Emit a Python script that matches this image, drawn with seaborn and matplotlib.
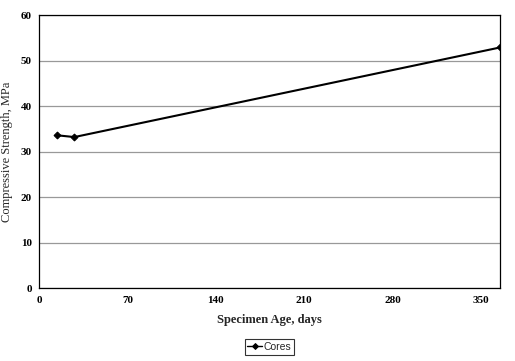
import numpy as np
import pandas as pd
import seaborn as sns
import matplotlib.pyplot as plt
from matplotlib.ticker import MultipleLocator

# values
age_days = [14, 28, 365]
strength_mpa = [33.6, 33.2, 52.9]
series_name = "Cores"

df = pd.DataFrame({"age": age_days, "strength": strength_mpa, "series": series_name})

sns.set_style("white")
plt.rcParams["font.family"] = ["Liberation Serif", "DejaVu Serif"]

fig = plt.figure(figsize=(5.15, 3.61), dpi=100)
ax = fig.add_axes([0.0757, 0.202, 0.8953, 0.756])

sns.lineplot(data=df, x="age", y="strength", hue="series", palette=["black"],
             marker="D", markersize=3.5, markeredgecolor="black", linewidth=1.5, ax=ax)

ax.set_xlim(0, 365)
ax.set_ylim(0, 60)
ax.set_xticks(np.arange(0, 351, 70))
ax.xaxis.set_minor_locator(MultipleLocator(14))
ax.set_yticks(np.arange(0, 61, 10))
ax.yaxis.grid(True, color="#999999", linewidth=0.9)
ax.tick_params(axis="both", which="major", labelsize=8, length=4, direction="inout", width=0.8, colors="black")
ax.tick_params(axis="x", which="minor", length=2, direction="inout", width=0.8)
ax.tick_params(axis="y", which="major", length=3)
for lbl in ax.get_xticklabels() + ax.get_yticklabels():
    lbl.set_fontweight("bold")
for s in ax.spines.values():
    s.set_color("black")
    s.set_linewidth(0.9)

ax.set_xlabel("Specimen Age, days", fontsize=9, fontweight="bold", labelpad=7)
ax.set_ylabel("Compressive Strength, MPa", fontsize=9, labelpad=6)

leg = ax.legend(loc="center", bbox_to_anchor=(0.5, -0.216), frameon=True, fancybox=False,
                handlelength=1.4, handletextpad=0.2, borderpad=0.25, borderaxespad=0,
                prop={"family": "Liberation Sans", "size": 7.5})
leg.get_frame().set_edgecolor("black")
leg.get_frame().set_linewidth(0.8)
for line in leg.get_lines():
    line.set_linewidth(1.0)
    line.set_markersize(3)

fig.savefig("out.png", dpi=100)
